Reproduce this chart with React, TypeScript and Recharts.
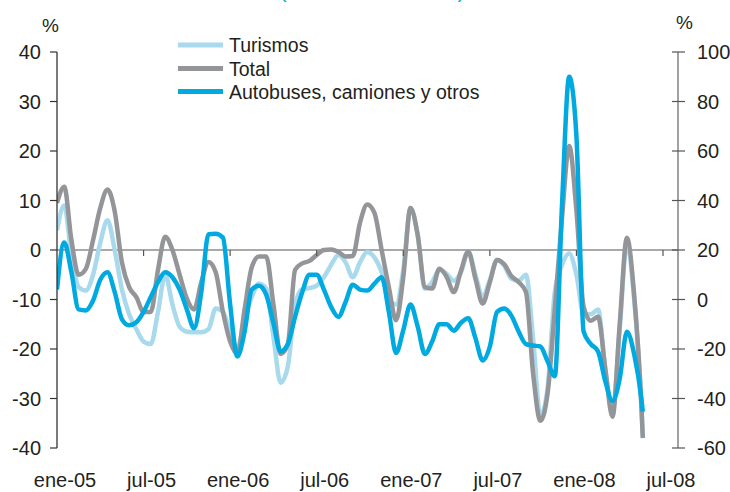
import React from 'react';
import { ComposedChart, Line, XAxis, YAxis, ReferenceLine } from 'recharts';

const months = [
  0, 0.5, 1, 1.5, 2, 2.5, 3, 3.5, 4, 4.5, 5, 5.5, 6, 6.5, 7, 7.5, 8, 8.5, 9, 9.5,
  10, 10.5, 11, 11.5, 12, 12.5, 13, 13.5, 14, 14.5, 15, 15.5, 16, 16.5, 17, 17.5, 18, 18.5, 19, 19.5,
  20, 20.5, 21, 21.5, 22, 22.5, 23, 23.5, 24, 24.5, 25, 25.5, 26, 26.5, 27, 27.5, 28, 28.5, 29, 29.5,
  30, 30.5, 31, 31.5, 32, 32.5, 33, 33.5, 34, 34.5, 35, 35.5, 36, 36.5, 37, 37.5, 38, 38.5, 39, 39.5,
  40, 40.5, 40.6,
];

const turismos = [
  4, 9, -1, -7.5, -8.2, -5, 1.5, 6, 0, -8, -13, -16, -18.5, -19, -12.5, -5, -11, -15.5, -16.5, -16.6,
  -16.6, -16, -11.8, -12.5, -16.5, -19.8, -14, -9.5, -6.8, -7.8, -17.5, -26.8, -23.5, -11, -7.9, -7.7, -7.2, -5.5, -3, -1,
  -2.5, -5.5, -2.5, -0.4, -1.5, -4.5, -10, -11, -4, 8.5, 3, -7.8, -6.5, -4, -4.8, -6.2, -4.5, -0.3, -5, -9.4,
  -6, -2, -3.2, -5.8, -6.2, -5, -18, -33.5, -28, -8.5, -3, -0.7, -5, -13, -13, -12, -24, -32.5, -16, 1.5,
  -10, -31, -37.5,
];

const total = [
  9.5, 12.8, 2, -5, -3.8, 2, 8.5, 12.2, 7.8, -2.5, -7.5, -9.5, -12.5, -12.5, -4, 2.7, 0, -5, -9.8, -12,
  -6.5, -2.4, -4.5, -12.5, -18.5, -21, -12, -3.5, -1.3, -1.3, -11, -21, -19, -4, -2.7, -2.2, -1, 0, 0.1, -0.4,
  -1.3, -1.2, 5.5, 9.2, 7.5, 0, -7.5, -14.2, -5.5, 8.5, 3, -7.5, -7.8, -3.8, -5.4, -8.5, -4.2, -0.3, -5.8, -10.8,
  -6.5, -2, -2.9, -5.3, -6.5, -8.5, -25, -34.5, -29, -12, 6.5, 21, 8, -11.5, -14.3, -13.5, -24, -33.7, -15, 2.5,
  -9, -31.5, -38,
];

const autobuses = [
  4, 23, 11, -4, -4.4, -0.4, 8, 11, 3, -8, -10.4, -9.2, -5, 1, 7, 11, 9, 4, -4, -11.6,
  3, 26.4, 26.6, 25, -2, -23, -13, 4, 5.6, 2, -9.6, -21, -18, -7, 3, 10, 10, 4, -3, -7,
  -1, 6, 4, 3.6, 6.4, 9, -5, -21.6, -12.4, -2, -11, -22, -17, -10, -10, -12.6, -9.4, -7.6, -15.6, -24.6,
  -19, -5, -3.6, -6.6, -13, -18, -18.6, -19, -25, -31, 38, 90, 66, -13, -18, -21, -33, -41, -32, -13,
  -22, -40, -45.4,
];

const xTickMonths = [0, 6, 12, 18, 24, 30, 36, 42];
const xTickLabels = ['ene-05', 'jul-05', 'ene-06', 'jul-06', 'ene-07', 'jul-07', 'ene-08', 'jul-08'];
const leftTicks = [-40, -30, -20, -10, 0, 10, 20, 30, 40];
const rightTicks = [-60, -40, -20, 0, 20, 40, 60, 80, 100];

const seriesNames = ['Turismos', 'Total', 'Autobuses, camiones y otros'];
const seriesColors = ['#a9d9ec', '#939598', '#00a9e0'];

const data = months.map((m, i) => ({
  m,
  tur: turismos[i],
  tot: total[i],
  aut: autobuses[i],
}));

const W = 730;
const H = 492;
const M = { top: 52, right: 0, bottom: 14, left: 0 };
const LEFT_W = 57;
const RIGHT_W = 52;
const X_H = 30;
const PLOT_TOP = M.top;
const PLOT_BOTTOM = H - M.bottom - X_H;
const ZERO_Y = PLOT_TOP + (PLOT_BOTTOM - PLOT_TOP) * (40 / 80);

const TEXT = '#231f20';
const FONT = '"Liberation Sans", Arial, Helvetica, sans-serif';

const XTick = (props: any) => {
  const { x, y, payload } = props;
  const idx = xTickMonths.indexOf(payload.value);
  const label = idx >= 0 ? xTickLabels[idx] : '';
  return (
    <g>
      {payload.value !== 0 && (
        <line x1={x} x2={x} y1={ZERO_Y} y2={ZERO_Y + 6} stroke="#555" strokeWidth={1.2} />
      )}
      <text x={x + 8} y={y + 39} textAnchor="middle" fill={TEXT} fontSize={20} fontFamily={FONT}>
        {label}
      </text>
    </g>
  );
};

const RightTick = (props: any) => {
  const { x, y, payload } = props;
  return (
    <g>
      <line x1={x - 6} x2={x + 7} y1={y} y2={y} stroke="#555" strokeWidth={1.2} />
      <text x={x + 19} y={y + 7} textAnchor="start" fill={TEXT} fontSize={20} fontFamily={FONT}>
        {payload.value}
      </text>
    </g>
  );
};

const LeftTick = (props: any) => {
  const { x, y, payload } = props;
  return (
    <text x={x} y={y + 7} textAnchor="end" fill={TEXT} fontSize={20} fontFamily={FONT}>
      {payload.value}
    </text>
  );
};

export default function App() {
  const legendRows = [45, 68.5, 91.5];
  return (
    <div style={{ position: 'absolute', left: 0, top: 0, width: W, height: H, background: '#fff', fontFamily: FONT }}>
      <ComposedChart width={W} height={H} data={data} margin={M}>
        <XAxis
          dataKey="m"
          type="number"
          domain={[0, 43.04]}
          ticks={xTickMonths}
          interval={0}
          axisLine={false}
          tickLine={false}
          tickSize={0}
          tickMargin={0}
          height={X_H}
          tick={<XTick />}
          allowDataOverflow
        />
        <YAxis
          yAxisId="left"
          domain={[-40, 40]}
          ticks={leftTicks}
          interval={0}
          width={LEFT_W}
          axisLine={{ stroke: '#333', strokeWidth: 1.3 }}
          tickLine={{ stroke: '#333', strokeWidth: 1.2 }}
          tickSize={7}
          tickMargin={9}
          tick={<LeftTick />}
        />
        <YAxis
          yAxisId="right"
          orientation="right"
          domain={[-60, 100]}
          ticks={rightTicks}
          interval={0}
          width={RIGHT_W}
          axisLine={{ stroke: '#8a8a8a', strokeWidth: 1.6 }}
          tickLine={false}
          tickSize={0}
          tickMargin={0}
          tick={<RightTick />}
        />
        <ReferenceLine yAxisId="left" y={0} stroke="#555" strokeWidth={1.2} />
        <Line
          yAxisId="left"
          type="monotone"
          dataKey="tur"
          stroke={seriesColors[0]}
          strokeWidth={4.5}
          dot={false}
          isAnimationActive={false}
        />
        <Line
          yAxisId="left"
          type="monotone"
          dataKey="tot"
          stroke={seriesColors[1]}
          strokeWidth={4.5}
          dot={false}
          isAnimationActive={false}
        />
        <Line
          yAxisId="right"
          type="monotone"
          dataKey="aut"
          stroke={seriesColors[2]}
          strokeWidth={4.5}
          dot={false}
          isAnimationActive={false}
        />
      </ComposedChart>
      <svg
        width={W}
        height={H}
        style={{ position: 'absolute', left: 0, top: 0, pointerEvents: 'none' }}
      >
        <text x={283} y={-2} fill="#00a9e0" fontSize={20} fontFamily={FONT} textAnchor="middle">(</text>
        <text x={461} y={-2} fill="#00a9e0" fontSize={20} fontFamily={FONT} textAnchor="middle">)</text>
        <text x={50.5} y={32} fill={TEXT} fontSize={19} fontFamily={FONT} textAnchor="middle">%</text>
        <text x={684.5} y={29} fill={TEXT} fontSize={19} fontFamily={FONT} textAnchor="middle">%</text>
        {seriesNames.map((name, i) => (
          <g key={name}>
            <line x1={178} x2={223} y1={legendRows[i]} y2={legendRows[i]} stroke={seriesColors[i]} strokeWidth={5} />
            <text x={229} y={legendRows[i] + 7} fill={TEXT} fontSize={19.5} fontFamily={FONT}>
              {name}
            </text>
          </g>
        ))}
      </svg>
    </div>
  );
}
